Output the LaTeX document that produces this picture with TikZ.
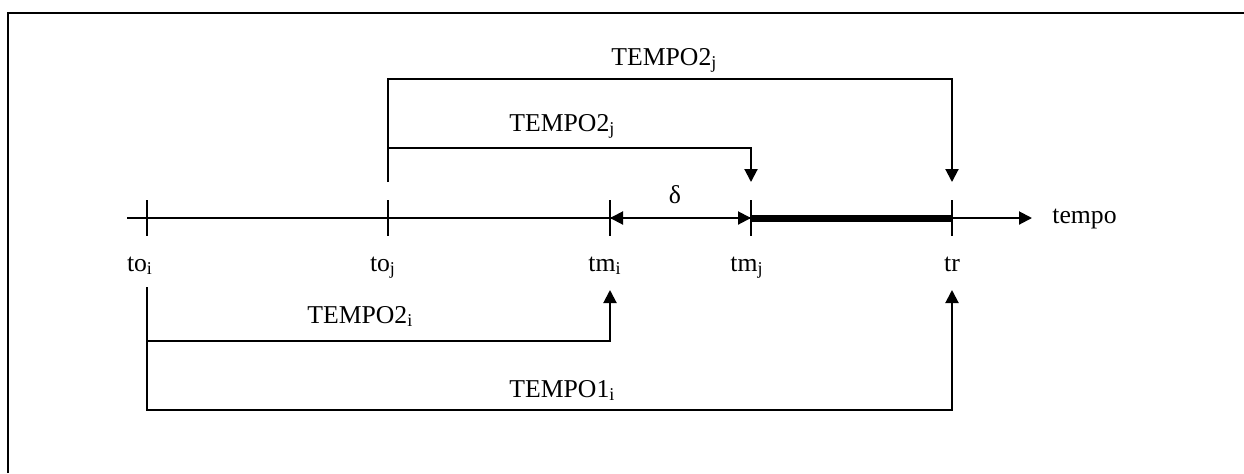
\documentclass[tikz,border=0pt]{standalone}
\usepackage{fontspec}
\setmainfont{Liberation Serif}
\usetikzlibrary{arrows.meta}
\begin{document}
\begin{tikzpicture}[x=0.5pt,y=-0.5pt,
  line/.style={line width=1pt},
  tip/.style={-{Triangle[length=6.5pt,width=6.5pt]}},
  dtip/.style={{Triangle[length=6.5pt,width=6.5pt]}-{Triangle[length=6.5pt,width=6.5pt]}},
  lbl/.style={font=\fontsize{12.85}{15}\selectfont, inner sep=0pt, anchor=base},
  lblw/.style={lbl, anchor=base west}
]
\useasboundingbox (0,0) rectangle (1244,473);
% frame (only top and left edges visible)
\draw[line width=1pt] (8,473) -- (8,13) -- (1244,13);
% axis points
\coordinate (start) at (127,218);
\coordinate (end) at (1032,218);
\coordinate (toi) at (147,218);
\coordinate (toj) at (388,218);
\coordinate (tmi) at (610,218);
\coordinate (tmj) at (751,218);
\coordinate (tr) at (952,218);
% bracket levels
\coordinate (hTop) at (0,79);
\coordinate (hMid) at (0,148);
\coordinate (hB1) at (0,341);
\coordinate (hB2) at (0,410);
% axis
\draw[line,tip] (start) -- (end);
\foreach \n in {toi,toj,tmi,tmj,tr}
  \draw[line] ([yshift=9pt]\n) -- ([yshift=-9pt]\n);
\draw[line,dtip] (tmi) -- (tmj);
\draw[line width=3.5pt] (tmj) -- (tr);
% labels on axis
\node[lbl] (ltoi) at (140,271) {to\textsubscript{i}};
\node[lbl] (ltoj) at (383,271) {to\textsubscript{j}};
\node[lbl] (ltmi) at (605,271) {tm\textsubscript{i}};
\node[lbl] (ltmj) at (747,271) {tm\textsubscript{j}};
\node[lbl] (ltr) at (952,271) {tr};
\node[lblw] (ltempo) at (1052,223) {tempo};
\node[lbl] (ldelta) at (675,203) {δ};
% upper brackets
\draw[line,tip] ([yshift=18pt]toj) -- (toj |- hTop) -- (tr |- hTop) -- ([yshift=18pt]tr);
\draw[line,tip] (toj |- hMid) -- (tmj |- hMid) -- ([yshift=18pt]tmj);
% lower brackets
\draw[line,tip] ([yshift=-34.5pt]toi) -- (toi |- hB2) -- (tr |- hB2) -- ([yshift=-36pt]tr);
\draw[line,tip] (toi |- hB1) -- (tmi |- hB1) -- ([yshift=-36pt]tmi);
% bracket labels
\node[lblw] (t2jtop) at (611,65) {TEMPO2\textsubscript{j}};
\node[lblw] (t2jmid) at (509,131) {TEMPO2\textsubscript{j}};
\node[lblw] (t2i) at (307,323) {TEMPO2\textsubscript{i}};
\node[lblw] (t1i) at (509,397) {TEMPO1\textsubscript{i}};
\end{tikzpicture}
\end{document}
